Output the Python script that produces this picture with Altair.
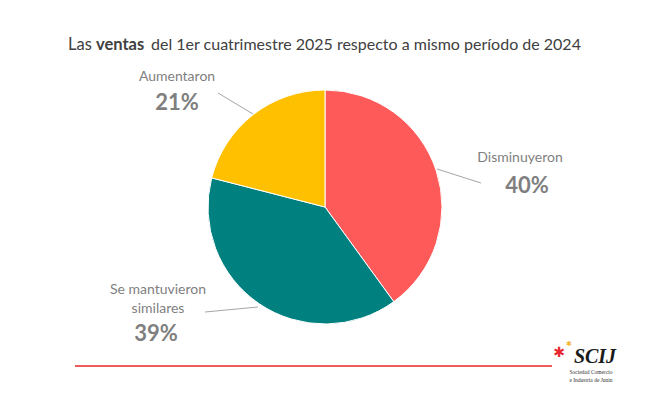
import altair as alt
import pandas as pd

categories = ["Disminuyeron", "Se mantuvieron similares", "Aumentaron"]
values = [40, 39, 21]
colors = ["#FF5A5A", "#00807F", "#FFC000"]

title_parts = ["Las", "ventas", "del 1er cuatrimestre 2025 respecto a mismo período de 2024"]

df = pd.DataFrame({"cat": categories, "val": values, "ord": [0, 1, 2]})

FONT = "Lato"
GRAY = "#7F7F7F"

pie = alt.Chart(df).mark_arc(radius=117, stroke="white", strokeWidth=1).encode(
    theta=alt.Theta("val:Q", stack=True),
    color=alt.Color("cat:N", scale=alt.Scale(domain=categories, range=colors), legend=None),
    order=alt.Order("ord:Q"),
    x=alt.value(317),
    y=alt.value(199),
)

def txt(s, x, y, size, bold=False, color=GRAY, align="center", font=FONT, italic=False):
    kw = dict(align=align, baseline="middle", fontSize=size, font=font, color=color,
              fontWeight="bold" if bold else "normal")
    if italic:
        kw["fontStyle"] = "italic"
    return alt.Chart(pd.DataFrame({"t": [s]})).mark_text(**kw).encode(
        text="t:N", x=alt.value(x), y=alt.value(y))

def rule(x1, y1, x2, y2, color="#A6A6A6", w=1):
    return alt.Chart(pd.DataFrame({"a": [0]})).mark_rule(color=color, strokeWidth=w).encode(
        x=alt.value(x1), y=alt.value(y1), x2=alt.value(x2), y2=alt.value(y2))

pct = [f"{v}%" for v in values]

layers = [
    pie,
    # title
    txt(title_parts[0], 60, 37, 16.5, color="#404040", align="left"),
    txt(title_parts[1], 88, 37, 16.5, bold=True, color="#404040", align="left"),
    txt(title_parts[2], 143, 37, 16, color="#404040", align="left"),
    # labels
    txt(categories[2], 169, 69, 14),
    txt(pct[2], 169, 95, 22, bold=True),
    txt(categories[0], 512, 150, 14),
    txt(pct[0], 519, 178, 22, bold=True),
    txt("Se mantuvieron", 150, 282, 14),
    txt("similares", 150, 301, 14),
    txt(pct[1], 148, 326, 22, bold=True),
    # leader lines
    rule(210, 85, 245, 106),
    rule(429, 161, 473, 175),
    rule(197, 304, 250, 299),
    # bottom line
    rule(67, 358, 544, 358, color="#EF5A5F", w=2),
    # logo
    txt("✱", 551, 345, 14, color="#E8262D", font="DejaVu Sans"),
    txt("✱", 561, 336, 7, color="#F2B632", font="DejaVu Sans"),
    txt("SCIJ", 587, 349, 20, bold=True, color="#1A1A1A", font="Liberation Serif", italic=True),
    txt("Sociedad Comercio", 583, 364, 5.5, color="#333333", font="Liberation Serif"),
    txt("e Industria de Junín", 583, 372, 5.5, color="#333333", font="Liberation Serif"),
]

chart = alt.layer(*layers).properties(
    width=644, height=377, autosize=alt.AutoSizeParams(type="none"), padding=0
).configure_view(strokeWidth=0, stroke="transparent", fill="transparent")

chart.save("out.html", embed_options={"renderer": "svg", "actions": False})
